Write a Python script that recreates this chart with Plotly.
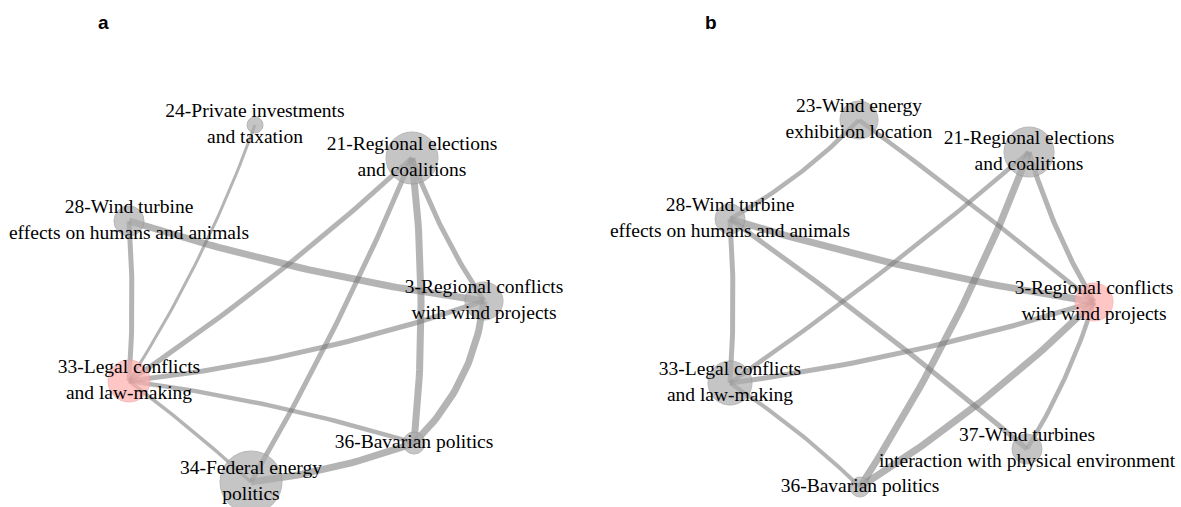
import numpy as np
import plotly.graph_objects as go

# ---------------- data ----------------
# Panel a
a_ids = ["3", "21", "24", "28", "33", "34", "36"]
a_labels = ["3-Regional conflicts<br>with wind projects",
            "21-Regional elections<br>and coalitions",
            "24-Private investments<br>and taxation",
            "28-Wind turbine<br>effects on humans and animals",
            "33-Legal conflicts<br>and law-making",
            "34-Federal energy<br>politics",
            "36-Bavarian politics"]
a_x = [484, 412, 255, 129, 129, 251, 414]
a_y = [301, 158, 125, 221, 381, 482, 443]
a_size = [38, 52, 16, 30, 42, 62, 22]
a_highlight = "33"
a_src = ["3", "3", "3", "3", "21", "21", "21", "24", "28", "33", "33", "34"]
a_dst = ["21", "28", "33", "36", "33", "34", "36", "33", "33", "34", "36", "36"]
a_weight = [5, 7, 5, 7, 5, 5, 7, 3, 5, 3.5, 4.5, 7]

# Panel b
b_ids = ["3", "21", "23", "28", "33", "36", "37"]
b_labels = ["3-Regional conflicts<br>with wind projects",
            "21-Regional elections<br>and coalitions",
            "23-Wind energy<br>exhibition location",
            "28-Wind turbine<br>effects on humans and animals",
            "33-Legal conflicts<br>and law-making",
            "36-Bavarian politics",
            "37-Wind turbines<br>interaction with physical environment"]
b_x = [1094, 1029, 859, 730, 730, 860, 1027]
b_y = [302, 152, 120, 219, 383, 487, 449]
b_size = [38, 50, 38, 30, 44, 20, 30]
b_highlight = "3"
b_src = ["3", "3", "3", "3", "3", "3", "21", "21", "23", "28", "28", "33"]
b_dst = ["21", "23", "28", "33", "36", "37", "33", "36", "28", "33", "37", "36"]
b_weight = [5, 4.5, 7, 5, 7, 4.5, 4.5, 7, 4.5, 5, 5, 4]

# edge bow (style, pixels)
a_bow = [5, 8, 10, 14, 7, 6, 8, 8, 3, 2, 6, -5]
b_bow = [5, -2, 7, 8, 8, 5, 5, 10, 6, 3, 4, 4]

EDGE_COLOR = "rgba(125,125,125,0.58)"
NODE_COLOR = "#adadad"
PINK = "#ffaeae"


def curve(p0, p1, bow, n=40):
    p0 = np.array(p0, float)
    p1 = np.array(p1, float)
    d = p1 - p0
    L = np.hypot(*d)
    nrm = np.array([d[1], -d[0]]) / L
    c = (p0 + p1) / 2 + nrm * 2 * bow
    t = np.linspace(0, 1, n)[:, None]
    pts = (1 - t) ** 2 * p0 + 2 * (1 - t) * t * c + t ** 2 * p1
    return pts[:, 0], pts[:, 1]


fig = go.Figure()


def add_panel(ids, labels, xs, ys, sizes, hl, src, dst, w, bow):
    pos = {i: (x, y) for i, x, y in zip(ids, xs, ys)}
    for s, d, ww, b in zip(src, dst, w, bow):
        cx, cy = curve(pos[s], pos[d], b)
        fig.add_trace(go.Scatter(x=cx, y=cy, mode="lines",
                                 line=dict(color=EDGE_COLOR, width=ww),
                                 hoverinfo="skip", showlegend=False))
    colors = [PINK if i == hl else NODE_COLOR for i in ids]
    lcolors = ["#f4a0a0" if i == hl else "#999999" for i in ids]
    fig.add_trace(go.Scatter(
        x=xs, y=ys, mode="markers+text", text=labels,
        textposition="middle center", cliponaxis=False,
        textfont=dict(family="Liberation Serif", size=19.5, color="black"),
        marker=dict(size=sizes, color=colors,
                    line=dict(color=lcolors, width=1)),
        hoverinfo="text", showlegend=False))


add_panel(a_ids, a_labels, a_x, a_y, a_size, a_highlight,
          a_src, a_dst, a_weight, a_bow)
add_panel(b_ids, b_labels, b_x, b_y, b_size, b_highlight,
          b_src, b_dst, b_weight, b_bow)

for txt, x in [("a", 103), ("b", 711)]:
    fig.add_annotation(x=x, y=22, xref="x", yref="y", text=f"<b>{txt}</b>",
                       showarrow=False,
                       font=dict(family="Liberation Sans", size=19, color="black"))

fig.update_layout(
    width=1181, height=507,
    margin=dict(l=0, r=0, t=0, b=0),
    paper_bgcolor="white", plot_bgcolor="white",
    xaxis=dict(range=[0, 1181], visible=False, fixedrange=True),
    yaxis=dict(range=[507, 0], visible=False, fixedrange=True),
)

fig.write_html("out.html",
               config={"displayModeBar": False},
               post_script="document.body.style.margin='0';document.body.style.overflow='hidden';")
